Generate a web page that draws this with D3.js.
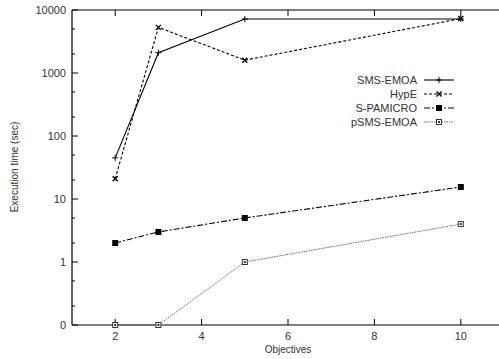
<html>
<head>
<meta charset="utf-8">
<script src="https://d3js.org/d3.v7.min.js"></script>
<style>
  body { margin: 0; background: #fff; }
  text { font-family: "Liberation Sans", Arial, sans-serif; font-size: 11px; fill: #333; }
</style>
</head>
<body>
<div id="chart"></div>
<script>
  // data
  let objectives = [2, 3, 5, 10];
  let seriesNames = ["SMS-EMOA", "HypE", "S-PAMICRO", "pSMS-EMOA"];
  let smsEmoa = [45, 2100, 7200, 7200];
  let hypE = [21, 5300, 1600, 7300];
  let sPamicro = [2, 3, 5, 15.5];
  let pSmsEmoa = [0, 0, 1, 4];
  let xTicks = [2, 4, 6, 8, 10];
  let yTicks = [0.1, 1, 10, 100, 1000, 10000];
  let yTickLabels = ["0", "1", "10", "100", "1000", "10000"];

  let width = 499, height = 359;
  let plotLeft = 72, plotTop = 10, plotRight = 504, plotBottom = 325;

  let svg = d3.select("#chart").append("svg")
    .attr("width", width)
    .attr("height", height);

  let x = d3.scaleLinear().domain([1, 11]).range([plotLeft, plotRight]);
  // log axis, zero plotted at the 0.1 line
  let y = d3.scaleLog().domain([0.1, 10000]).range([plotBottom, plotTop]);
  let yv = v => y(Math.max(v, 0.1));

  // minor ticks at 2 and 5 of each decade
  let minor = [];
  for (let d = 0.1; d < 10000; d *= 10) { minor.push(d * 2, d * 5); }

  let g = svg.append("g");
  g.selectAll(".ymin").data(minor).enter().append("line")
    .attr("x1", plotLeft).attr("x2", plotLeft + 3)
    .attr("y1", d => y(d)).attr("y2", d => y(d))
    .attr("stroke", "#000");
  g.selectAll(".ymaj").data(yTicks).enter().append("line")
    .attr("x1", plotLeft).attr("x2", plotLeft + 6)
    .attr("y1", d => y(d)).attr("y2", d => y(d))
    .attr("stroke", "#000");
  g.selectAll(".ylab").data(yTicks).enter().append("text")
    .attr("x", plotLeft - 6).attr("y", d => y(d) + 4)
    .attr("text-anchor", "end")
    .text((d, i) => yTickLabels[i]);

  // x ticks bottom and top
  g.selectAll(".xb").data(xTicks).enter().append("line")
    .attr("x1", d => x(d)).attr("x2", d => x(d))
    .attr("y1", plotBottom).attr("y2", plotBottom - 6).attr("stroke", "#000");
  g.selectAll(".xt").data(xTicks).enter().append("line")
    .attr("x1", d => x(d)).attr("x2", d => x(d))
    .attr("y1", plotTop).attr("y2", plotTop + 6).attr("stroke", "#000");
  g.selectAll(".xlab").data(xTicks).enter().append("text")
    .attr("x", d => x(d)).attr("y", plotBottom + 15)
    .attr("text-anchor", "middle")
    .text(d => d);

  // frame
  g.append("line").attr("x1", plotLeft).attr("x2", plotRight).attr("y1", plotTop).attr("y2", plotTop).attr("stroke", "#000").attr("stroke-width", 1.2);
  g.append("line").attr("x1", plotLeft).attr("x2", plotRight).attr("y1", plotBottom).attr("y2", plotBottom).attr("stroke", "#000").attr("stroke-width", 1.2);
  g.append("line").attr("x1", plotLeft).attr("x2", plotLeft).attr("y1", plotTop).attr("y2", plotBottom).attr("stroke", "#000").attr("stroke-width", 1.2);

  // axis titles
  svg.append("text").attr("x", x(6)).attr("y", 353).attr("text-anchor", "middle").style("font-size", "10px").text("Objectives");
  svg.append("text").attr("transform", "translate(18,167) rotate(-90)").attr("text-anchor", "middle").style("font-size", "10px").text("Execution time (sec)");

  let series = [
    { name: seriesNames[0], values: smsEmoa, dash: null, color: "#000", marker: "plus" },
    { name: seriesNames[1], values: hypE, dash: "3,2", color: "#000", marker: "cross" },
    { name: seriesNames[2], values: sPamicro, dash: "6,2,2,2", color: "#000", marker: "square" },
    { name: seriesNames[3], values: pSmsEmoa, dash: "1.5,1", color: "#555", marker: "osquare" }
  ];

  function marker(sel, type, color) {
    if (type === "plus") {
      sel.append("path").attr("d", "M-3,0H3M0,-3V3").attr("stroke", color).attr("fill", "none");
    } else if (type === "cross") {
      sel.append("path").attr("d", "M-2.5,-2.5L2.5,2.5M-2.5,2.5L2.5,-2.5").attr("stroke", color).attr("stroke-width", 1.4).attr("fill", "none");
    } else if (type === "square") {
      sel.append("rect").attr("x", -3).attr("y", -3).attr("width", 6).attr("height", 6).attr("fill", "#000");
    } else {
      sel.append("rect").attr("x", -2.5).attr("y", -2.5).attr("width", 5).attr("height", 5).attr("fill", "#fff").attr("stroke", "#333");
      sel.append("rect").attr("x", -1).attr("y", -1).attr("width", 2).attr("height", 2).attr("fill", "#333");
    }
  }

  let line = d3.line().x((d, i) => x(objectives[i])).y(d => yv(d));

  series.forEach(function(s) {
    svg.append("path")
      .attr("d", line(s.values))
      .attr("fill", "none")
      .attr("stroke", s.color)
      .attr("stroke-width", s.marker === "osquare" ? 0.9 : 1.1)
      .attr("stroke-dasharray", s.dash);
    s.values.forEach(function(v, i) {
      let m = svg.append("g").attr("transform", "translate(" + x(objectives[i]) + "," + yv(v) + ")");
      marker(m, s.marker, s.color);
    });
  });

  // legend
  series.forEach(function(s, i) {
    let ly = 80 + i * 14;
    svg.append("text").attr("x", 417).attr("y", ly + 4).attr("text-anchor", "end").text(s.name);
    svg.append("line").attr("x1", 424).attr("x2", 454).attr("y1", ly).attr("y2", ly)
      .attr("stroke", s.color).attr("stroke-dasharray", s.dash)
      .attr("stroke-width", s.marker === "osquare" ? 0.9 : 1.1);
    let m = svg.append("g").attr("transform", "translate(439," + ly + ")");
    marker(m, s.marker, s.color);
  });
</script>
</body>
</html>
